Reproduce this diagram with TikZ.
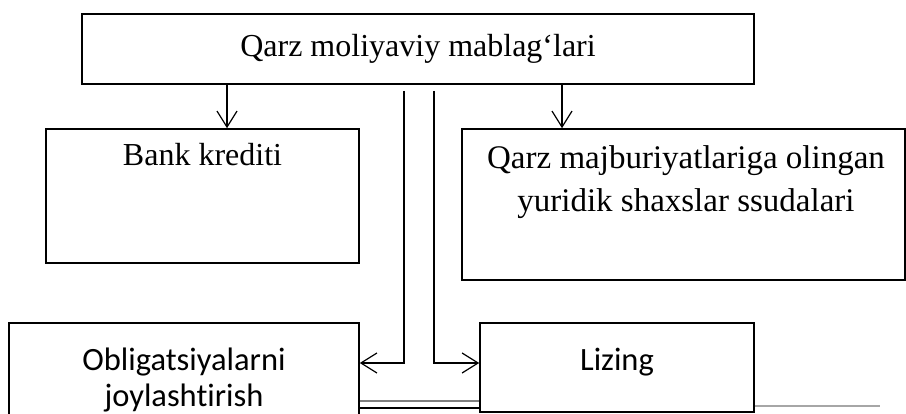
\documentclass[tikz,border=0pt]{standalone}
\usepackage{fontspec}
\setmainfont{Liberation Serif}
\newfontfamily\calib[Ligatures=NoCommon]{Carlito}
\usetikzlibrary{arrows.meta}
\begin{document}
\begin{tikzpicture}[x=1pt,y=-1pt,
 box/.style={draw, line width=1.6pt, inner sep=0pt},
 conn/.style={line width=1.2pt},
 arr/.style={conn, -{Straight Barb[length=16pt,width=20pt,line width=1.2pt]}},
 txt/.style={font=\fontsize{32}{43}\selectfont, align=center, inner sep=0pt},
 stxt/.style={font=\calib\fontsize{32.5}{36}\selectfont, align=center, inner sep=0pt}]
\useasboundingbox (0,0) rectangle (906,414);
\node[box, minimum width=672pt, minimum height=70pt] (top) at (418,49) {};
\node[box, minimum width=313pt, minimum height=134pt] (bank) at (202.5,196) {};
\node[box, minimum width=443pt, minimum height=151pt] (right) at (683.5,204.5) {};
\node[box, minimum width=350pt, minimum height=107pt] (obl) at (184,376.5) {};
\node[box, minimum width=274pt, minimum height=89pt] (liz) at (617,367.5) {};
\node[txt] (ttop) at (top.center) {Qarz moliyaviy mablag‘lari};
\node[txt] (tbank) at (202.5,155) {Bank krediti};
\node[txt, font=\fontsize{33}{43}\selectfont] (tright) at (686,182) {Qarz majburiyatlariga olingan\\yuridik shaxslar ssudalari};
\node[stxt] (tobl) at (184,380) {Obligatsiyalarni\\joylashtirish};
\node[stxt] (tliz) at (617,362) {Lizing};
\coordinate (a1) at (227,0);
\coordinate (a2) at (562,0);
\coordinate (v1) at (404,91);
\coordinate (v2) at (434,91);
\coordinate (h) at (0,363);
\draw[arr] (top.south -| a1) -- (bank.north -| a1);
\draw[arr] (top.south -| a2) -- (right.north -| a2);
\draw[arr] (v1) |- (obl.east |- h);
\draw[arr] (v2) |- (liz.west |- h);
\coordinate (d1) at (0,401);
\coordinate (d2) at (0,408);
\coordinate (g1) at (880,406);
\draw[line width=1.4pt, gray] (obl.east |- d1) -- (liz.west |- d1);
\draw[line width=1.4pt] (obl.east |- d2) -- (liz.west |- d2);
\draw[line width=1.2pt, gray!70] (liz.east |- g1) -- (g1);
\end{tikzpicture}
\end{document}
